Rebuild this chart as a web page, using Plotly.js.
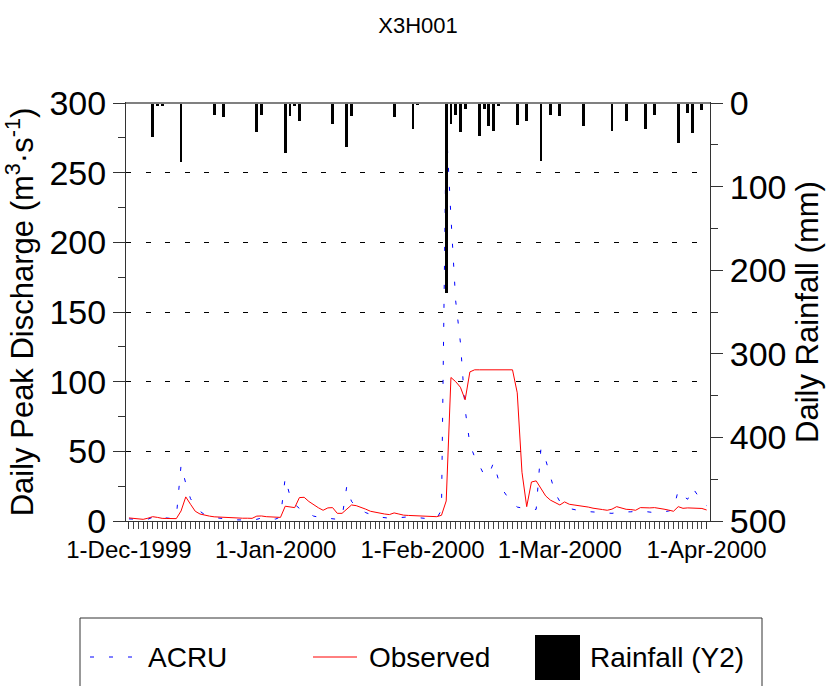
<!DOCTYPE html>
<html>
<head>
<meta charset="utf-8">
<script src="https://cdn.plot.ly/plotly-3.0.1.min.js"></script>
<style>html,body{margin:0;padding:0;background:#fff;}#chart{width:826px;height:686px;}</style>
</head>
<body>
<div id="chart"></div>
<script>
// ---- data ----
var startDate = '1999-12-01';
var acru = [1.5,1.2,1.0,1.0,1.3,2.5,4.0,2.5,2.0,1.8,3.0,40,27,16,11,7,4.5,3,2.5,2,1.5,1.0,0.9,0.8,0.7,0.6,0.6,1.2,2.2,2.0,1.6,
  1.4,3.0,31,18,12,9,7,5,3.5,2.8,2.3,1.8,1.5,1.2,2.5,25,14,11,8,6,4.5,3.5,2.8,2.3,2.0,2.0,2.4,2.8,3.0,2.8,2.3,
  2.0,1.7,1.5,1.8,8,285,218,158,128,80,55,46,40,33,33,42,30,22,17,13,10,9.5,8.5,8.0,8.4,52,44,31,20,
  14,11,9,8,7.5,7,6.7,6.3,6.0,5.6,5.3,5.5,6.0,6.5,6.5,6.6,7.0,7.2,6.8,6.3,6.0,6.0,6.5,7.2,8.4,22,18,15.6,24,19,13,11];
var observed = [2.2,2.0,1.6,1.2,2.0,3.1,2.6,1.9,1.8,1.7,1.7,7.2,17.3,12,7,5,4.1,3.5,3.0,2.8,2.6,2.2,2.2,2.1,2.0,2.0,1.9,3.5,3.6,3.1,2.9,
  2.7,2.6,10.6,10.2,9.6,16.8,17,14,11.5,9.5,7.7,9.4,9.6,5.5,5.5,8.5,11.5,11,10,8.5,7,6.2,5.5,5,4.6,5.8,5,4.2,4,3.8,3.7,
  3.6,3.5,3.3,3.1,4.1,14.4,103,100,96,87,107,108.5,108.5,108.5,108.5,108.5,108.5,108.5,108.5,108.5,92,35,10.3,28,28.8,23,18,15,13,
  11.5,13.7,12,11.5,11,10.8,10,9.2,8.9,8.2,7.7,8.5,10.3,9.5,8.4,8.2,7.7,9.6,9.4,9.4,9.6,9.2,8.5,7.8,7,10.3,9.1,9.4,9.4,9.4,9,7.9];
var rainDates = ['1999-12-06','1999-12-07','1999-12-08','1999-12-12','1999-12-19','1999-12-21','1999-12-28','1999-12-29',
  '2000-01-03','2000-01-04','2000-01-05','2000-01-06','2000-01-13','2000-01-16','2000-01-17','2000-01-26','2000-01-30','2000-01-31',
  '2000-02-06','2000-02-07','2000-02-08','2000-02-09','2000-02-10','2000-02-13','2000-02-14','2000-02-15','2000-02-16','2000-02-17',
  '2000-02-21','2000-02-23','2000-02-26','2000-02-28','2000-03-01','2000-03-06','2000-03-12','2000-03-15','2000-03-19','2000-03-21',
  '2000-03-26','2000-03-28','2000-03-29','2000-03-31'];
var rainMm = [40.7,3.5,3,70.6,14,17,35,14,
  59.5,15,3,21,25,53,15,17,31.5,2,
  227,25,14,35,7,39,7,28,34,3,
  26.5,22,69.6,14,16,28,33,21,31,14,
  48,12,36,8];
var legendLabels = ['ACRU','Observed','Rainfall (Y2)'];
var chartTitle = 'X3H001';
var yTitle = 'Daily Peak Discharge (m<sup>3</sup>·s<sup>-1</sup>)';
var y2Title = 'Daily Rainfall (mm)';

// daily dates
var dates = [];
(function(){
  var d0 = new Date(startDate + 'T00:00:00Z');
  for (var i = 0; i < acru.length; i++) {
    var d = new Date(d0.getTime() + i * 86400000);
    dates.push(d.toISOString().slice(0,10));
  }
})();

var FONT = 'Liberation Sans, Arial, sans-serif';
var BLUE_DASH = '4px,15px';

var traces = [
  {x: dates, y: acru, type: 'scatter', mode: 'lines', name: legendLabels[0],
   line: {color: '#0000ff', width: 1, dash: BLUE_DASH}, yaxis: 'y'},
  {x: dates, y: observed, type: 'scatter', mode: 'lines', name: legendLabels[1],
   line: {color: '#ff0000', width: 1}, yaxis: 'y'},
  {x: rainDates, y: rainMm, type: 'bar', name: legendLabels[2], yaxis: 'y2',
   marker: {color: '#000000', line: {width: 0}}, width: 0.6 * 86400000}
];

// custom legend geometry (paper coords)
function px2x(p){ return (p - 126) / 584; }
function px2y(p){ return (521 - p) / 418; }
var legY = px2y(657);

var layout = {
  width: 826, height: 686,
  margin: {l: 126, r: 116, t: 103, b: 165},
  paper_bgcolor: '#ffffff', plot_bgcolor: '#ffffff',
  font: {family: FONT, color: '#000'},
  showlegend: false,
  bargap: 0,
  title: {text: chartTitle, font: {size: 22, family: FONT, color: '#000'},
          x: 0.5, xref: 'paper', xanchor: 'center', y: 1 - 25/686, yref: 'container', yanchor: 'middle'},
  xaxis: {
    type: 'date',
    range: ['1999-11-30 09:00', '2000-04-01 17:00'],
    tick0: '1999-12-01', dtick: 'M1', tickformat: '%-d-%b-%Y',
    ticks: 'outside', ticklen: 7, tickwidth: 1, tickcolor: '#333',
    minor: {dtick: 86400000, ticks: 'outside', ticklen: 7, tickwidth: 1, tickcolor: '#444', showgrid: false},
    showline: true, linecolor: '#333', linewidth: 1, mirror: true,
    showgrid: false, zeroline: false,
    tickfont: {size: 24, family: FONT, color: '#000'}
  },
  yaxis: {
    range: [0, 300], dtick: 50, tick0: 0,
    ticks: 'outside', ticklen: 12, tickwidth: 1, tickcolor: '#333',
    minor: {dtick: 25, ticks: 'outside', ticklen: 7, tickwidth: 1, tickcolor: '#333', showgrid: false},
    showline: true, linecolor: '#333', linewidth: 1,
    showgrid: true, gridcolor: '#000', gridwidth: 1, griddash: '5px,14.5px',
    zeroline: false,
    tickfont: {size: 34, family: FONT, color: '#000'},
    title: {text: yTitle, font: {size: 31, family: FONT, color: '#000'}, standoff: 12}
  },
  yaxis2: {
    overlaying: 'y', side: 'right',
    range: [500, 0], dtick: 100, tick0: 0,
    ticks: 'outside', ticklen: 12, tickwidth: 1, tickcolor: '#333',
    minor: {dtick: 50, ticks: 'outside', ticklen: 7, tickwidth: 1, tickcolor: '#333', showgrid: false},
    showline: true, linecolor: '#333', linewidth: 1,
    showgrid: false, zeroline: false,
    tickfont: {size: 34, family: FONT, color: '#000'},
    title: {text: y2Title, font: {size: 31, family: FONT, color: '#000'}, standoff: 10}
  },
  shapes: [
    {type: 'line', xref: 'paper', yref: 'paper', x0: 0, x1: 1, y0: 1, y1: 1,
     line: {color: '#808080', width: 2}},
    {type: 'rect', xref: 'paper', yref: 'paper', x0: px2x(80), x1: px2x(762), y0: px2y(618), y1: px2y(700),
     line: {color: '#333', width: 1}, fillcolor: 'rgba(0,0,0,0)'},
    {type: 'line', xref: 'paper', yref: 'paper', x0: px2x(90), x1: px2x(135), y0: legY, y1: legY,
     line: {color: '#0000ff', width: 1, dash: BLUE_DASH}},
    {type: 'line', xref: 'paper', yref: 'paper', x0: px2x(313), x1: px2x(357), y0: legY, y1: legY,
     line: {color: '#ff0000', width: 1}},
    {type: 'rect', xref: 'paper', yref: 'paper', x0: px2x(535), x1: px2x(580), y0: px2y(635), y1: px2y(680),
     line: {width: 0}, fillcolor: '#000'}
  ],
  annotations: [
    {text: legendLabels[0], xref: 'paper', yref: 'paper', x: px2x(146), y: legY, xanchor: 'left', yanchor: 'middle', showarrow: false, font: {size: 28, family: FONT, color: '#000'}},
    {text: legendLabels[1], xref: 'paper', yref: 'paper', x: px2x(367), y: legY, xanchor: 'left', yanchor: 'middle', showarrow: false, font: {size: 28, family: FONT, color: '#000'}},
    {text: legendLabels[2], xref: 'paper', yref: 'paper', x: px2x(588), y: legY, xanchor: 'left', yanchor: 'middle', showarrow: false, font: {size: 28, family: FONT, color: '#000'}}
  ]
};

Plotly.newPlot('chart', traces, layout, {staticPlot: true, displayModeBar: false});
</script>
</body>
</html>
